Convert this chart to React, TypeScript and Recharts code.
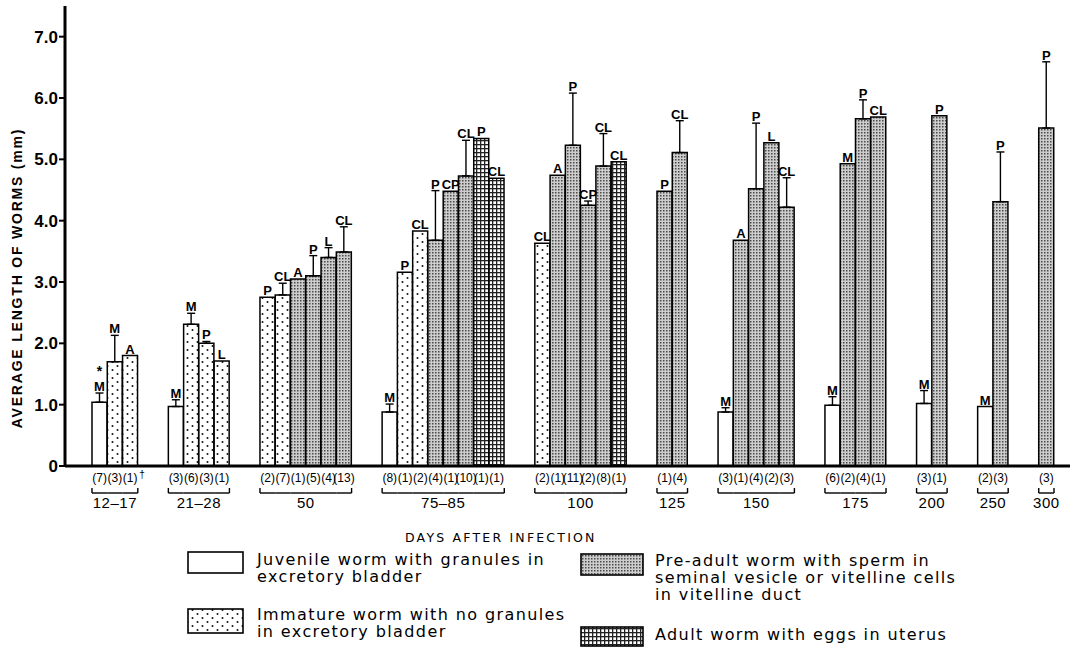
import React from 'react';
import { BarChart, Bar, XAxis, YAxis, ErrorBar, LabelList, Cell } from 'recharts';

// --- data ---

const days = ['12–17', '21–28', '50', '75–85', '100', '125', '150', '175', '200', '250', '300'];

// J juvenile, I immature, P pre-adult, A adult
const stages = [
  ['J', 'I', 'I'],
  ['J', 'I', 'I', 'I'],
  ['I', 'I', 'P', 'P', 'P', 'P'],
  ['J', 'I', 'I', 'P', 'P', 'P', 'A', 'A'],
  ['I', 'P', 'P', 'P', 'P', 'A'],
  ['P', 'P'],
  ['J', 'P', 'P', 'P', 'P'],
  ['J', 'P', 'P', 'P'],
  ['J', 'P'],
  ['J', 'P'],
  ['P'],
];

// average length (mm)
const lengths = [
  [1.04, 1.70, 1.80],
  [0.97, 2.31, 2.00, 1.71],
  [2.75, 2.79, 3.05, 3.10, 3.40, 3.49],
  [0.88, 3.16, 3.83, 3.68, 4.48, 4.73, 5.34, 4.69],
  [3.63, 4.74, 5.23, 4.25, 4.89, 4.96],
  [4.48, 5.11],
  [0.88, 3.68, 4.52, 5.27, 4.22],
  [0.99, 4.93, 5.66, 5.69],
  [1.02, 5.71],
  [0.97, 4.31],
  [5.51],
];

// top of the error bar (mm), null where none drawn
const errorTops = [
  [1.19, 2.13, null],
  [1.08, 2.49, 2.03, null],
  [null, 2.98, null, 3.43, 3.56, 3.90],
  [1.01, null, null, 4.49, null, 5.31, null, null],
  [null, null, 6.08, 4.32, 5.42, null],
  [null, 5.63],
  [0.95, null, 5.59, null, 4.70],
  [1.13, null, 5.97, null],
  [1.23, null],
  [null, 5.12],
  [6.59],
];

const marks = [
  ['M', 'M', 'A'],
  ['M', 'M', 'P', 'L'],
  ['P', 'CL', 'A', 'P', 'L', 'CL'],
  ['M', 'P', 'CL', 'P', 'CP', 'CL', 'P', 'CL'],
  ['CL', 'A', 'P', 'CP', 'CL', 'CL'],
  ['P', 'CL'],
  ['M', 'A', 'P', 'L', 'CL'],
  ['M', 'M', 'P', 'CL'],
  ['M', 'P'],
  ['M', 'P'],
  ['P'],
];

const samples = [
  [7, 3, 1],
  [3, 6, 3, 1],
  [2, 7, 1, 5, 4, 13],
  [8, 1, 2, 4, 1, 10, 1, 1],
  [2, 1, 11, 2, 8, 1],
  [1, 4],
  [3, 1, 4, 2, 3],
  [6, 2, 4, 1],
  [3, 1],
  [2, 3],
  [3],
];

const yTicks = [0, 1, 2, 3, 4, 5, 6, 7];

const legendItems = [
  { stage: 'J', lines: ['Juvenile worm with granules in', 'excretory bladder'] },
  { stage: 'I', lines: ['Immature worm with no granules', 'in excretory bladder'] },
  { stage: 'P', lines: ['Pre-adult worm with sperm in', 'seminal vesicle or vitelline cells', 'in vitelline duct'] },
  { stage: 'A', lines: ['Adult worm with eggs in uterus'] },
];

// --- layout ---

const W = 1077;
const CHART_H = 520;
const Y_AXIS_W = 65;
const RIGHT = 7;
const PAD_L = 27;
const PAD_R = 16;
const GAP_SLOTS = 2;

type Row = {
  slot: string;
  length: number | null;
  err?: number[];
  stage?: string;
  mark?: string;
  n?: number;
  group?: number;
  pos?: number;
  size?: number;
};

const rows: Row[] = [];
days.forEach((_, g) => {
  lengths[g].forEach((v, i) => {
    const top = errorTops[g][i];
    rows.push({
      slot: `b${rows.length}`,
      length: v,
      err: top == null ? undefined : [0, +(top - v).toFixed(2)],
      stage: stages[g][i],
      mark: marks[g][i],
      n: samples[g][i],
      group: g,
      pos: i,
      size: lengths[g].length,
    });
  });
  if (g < days.length - 1) {
    for (let k = 0; k < GAP_SLOTS; k++) rows.push({ slot: `s${rows.length}`, length: null });
  }
});
const rowBySlot: Record<string, Row> = {};
rows.forEach((r) => (rowBySlot[r.slot] = r));

const SLOT_W = (W - Y_AXIS_W - RIGHT - PAD_L - PAD_R) / rows.length;

const fillFor = (stage?: string, pre = '') => {
  if (stage === 'I') return `url(#${pre}dots)`;
  if (stage === 'P') return `url(#${pre}stipple)`;
  if (stage === 'A') return `url(#${pre}grid)`;
  return '#fff';
};

const SANS = '"Liberation Sans", Arial, sans-serif';
const LEGEND_FONT = '"DejaVu Sans", sans-serif';

const Patterns = ({ pre = '' }: { pre?: string }) => (
  <defs>
    <pattern id={`${pre}dots`} width="10" height="8" patternUnits="userSpaceOnUse">
      <rect width="10" height="8" fill="#fff" />
      <circle cx="2.5" cy="2" r="1" fill="#111" />
      <circle cx="7.5" cy="6" r="1" fill="#111" />
    </pattern>
    <pattern id={`${pre}stipple`} width="3" height="3" patternUnits="userSpaceOnUse">
      <rect width="3" height="3" fill="#cdcdcd" />
      <rect x="0" y="0" width="1.5" height="1.5" fill="#4a4a4a" />
    </pattern>
    <pattern id={`${pre}grid`} width="4" height="4" patternUnits="userSpaceOnUse">
      <rect width="4" height="4" fill="#fff" />
      <rect x="0" y="0" width="4" height="1.3" fill="#222" />
      <rect x="0" y="0" width="1.3" height="4" fill="#222" />
    </pattern>
  </defs>
);

const MarkLabel = (props: any) => {
  const vb = props.viewBox || props;
  const { x, y, width, height } = vb;
  const row = rowBySlot[props.value];
  if (!row || row.length == null || height == null) return null;
  const ppu = height / row.length;
  const top = y - (row.err ? row.err[1] * ppu : 0);
  const cx = x + width / 2;
  const starred = row.group === 0 && row.pos === 0;
  return (
    <g>
      {starred && (
        <text x={cx} y={top - 17} textAnchor="middle" fontFamily={SANS} fontWeight="bold" fontSize={14} fill="#000">
          *
        </text>
      )}
      <text x={cx} y={top - 2} textAnchor="middle" fontFamily={SANS} fontWeight="bold" fontSize={13} fill="#000">
        {row.mark}
      </text>
    </g>
  );
};

const SlotTick = (props: any) => {
  const { x, y, payload } = props;
  const row = rowBySlot[payload.value];
  if (!row || row.length == null) return <g />;
  const half = SLOT_W / 2;
  const size = row.size as number;
  const pos = row.pos as number;
  const first = pos === 0;
  const last = pos === size - 1;
  let labelX: number | null = null;
  if (size % 2 === 1 && pos === (size - 1) / 2) labelX = x;
  if (size % 2 === 0 && pos === size / 2 - 1) labelX = x + half;
  return (
    <g>
      <text x={x} y={y + 16} textAnchor="middle" fontFamily={SANS} fontSize={12} fill="#000">
        ({row.n})
      </text>
      {row.group === 0 && last && (
        <text x={x + 9} y={y + 12} fontFamily={SANS} fontSize={10} fill="#000">
          †
        </text>
      )}
      <line x1={x - half} x2={x + half} y1={y + 27} y2={y + 27} stroke="#000" strokeWidth={1.4} />
      {first && <line x1={x - half} x2={x - half} y1={y + 22} y2={y + 27} stroke="#000" strokeWidth={1.4} />}
      {last && <line x1={x + half} x2={x + half} y1={y + 22} y2={y + 27} stroke="#000" strokeWidth={1.4} />}
      {labelX != null && (
        <text x={labelX} y={y + 42} textAnchor="middle" fontFamily={SANS} fontSize={15} letterSpacing={0.5} fill="#000">
          {days[row.group as number]}
        </text>
      )}
    </g>
  );
};

const YTitle = () => (
  <text
    x={22}
    y={278}
    transform="rotate(-90, 22, 278)"
    textAnchor="middle"
    fontFamily={SANS}
    fontWeight="bold"
    fontSize={14}
    letterSpacing={1.8}
    fill="#000"
  >
    AVERAGE LENGTH OF WORMS (mm)
  </text>
);

const Legend = () => {
  const boxes = [
    { x: 188, y: 552, w: 55, h: 21, tx: 257, ty: 565 },
    { x: 188, y: 609, w: 55, h: 24, tx: 257, ty: 620 },
    { x: 581, y: 554, w: 62, h: 21, tx: 655, ty: 566 },
    { x: 581, y: 627, w: 62, h: 19, tx: 655, ty: 640 },
  ];
  return (
    <svg width={W} height={647} style={{ position: 'absolute', left: 0, top: 0, pointerEvents: 'none' }}>
      <Patterns pre="lg-" />
      <text x={405} y={542} fontFamily={LEGEND_FONT} fontSize={12.5} letterSpacing={2.2} fill="#000">
        DAYS AFTER INFECTION
      </text>
      {legendItems.map((item, i) => {
        const b = boxes[i];
        return (
          <g key={item.stage}>
            <rect x={b.x} y={b.y} width={b.w} height={b.h} fill={fillFor(item.stage, 'lg-')} stroke="#000" strokeWidth={1.6} />
            {item.lines.map((ln, k) => (
              <text key={k} x={b.tx} y={b.ty + k * 17} fontFamily={LEGEND_FONT} fontSize={16} letterSpacing={1.4} fill="#000">
                {ln}
              </text>
            ))}
          </g>
        );
      })}
    </svg>
  );
};

export default function App() {
  return (
    <div style={{ position: 'absolute', left: 0, top: 0, width: W, height: 647, background: '#fff' }}>
      <BarChart
        width={W}
        height={CHART_H}
        data={rows}
        margin={{ top: 6, right: RIGHT, left: 0, bottom: 0 }}
        barCategoryGap={0}
      >
        <Patterns />
        <XAxis
          dataKey="slot"
          type="category"
          interval={0}
          height={54}
          padding={{ left: PAD_L, right: PAD_R }}
          axisLine={{ stroke: '#000', strokeWidth: 3 }}
          tickLine={false}
          tickSize={0}
          tickMargin={0}
          tick={<SlotTick />}
        />
        <YAxis
          domain={[0, 7.5]}
          ticks={yTicks}
          allowDataOverflow
          width={Y_AXIS_W}
          axisLine={{ stroke: '#000', strokeWidth: 3 }}
          tickLine={{ stroke: '#000', strokeWidth: 2 }}
          tickSize={6}
          tickMargin={1}
          tickFormatter={(v: number) => (v === 0 ? '0' : v.toFixed(1))}
          tick={{ fill: '#000', fontSize: 17, fontWeight: 'bold', fontFamily: SANS }}
          label={<YTitle />}
        />
        <Bar dataKey="length" stroke="#000" strokeWidth={1.5} isAnimationActive={false}>
          {rows.map((r) => (
            <Cell key={r.slot} fill={fillFor(r.stage)} />
          ))}
          <ErrorBar dataKey="err" direction="y" width={4} stroke="#000" strokeWidth={1.4} />
          <LabelList dataKey="slot" content={<MarkLabel />} />
        </Bar>
      </BarChart>
      <Legend />
    </div>
  );
}
